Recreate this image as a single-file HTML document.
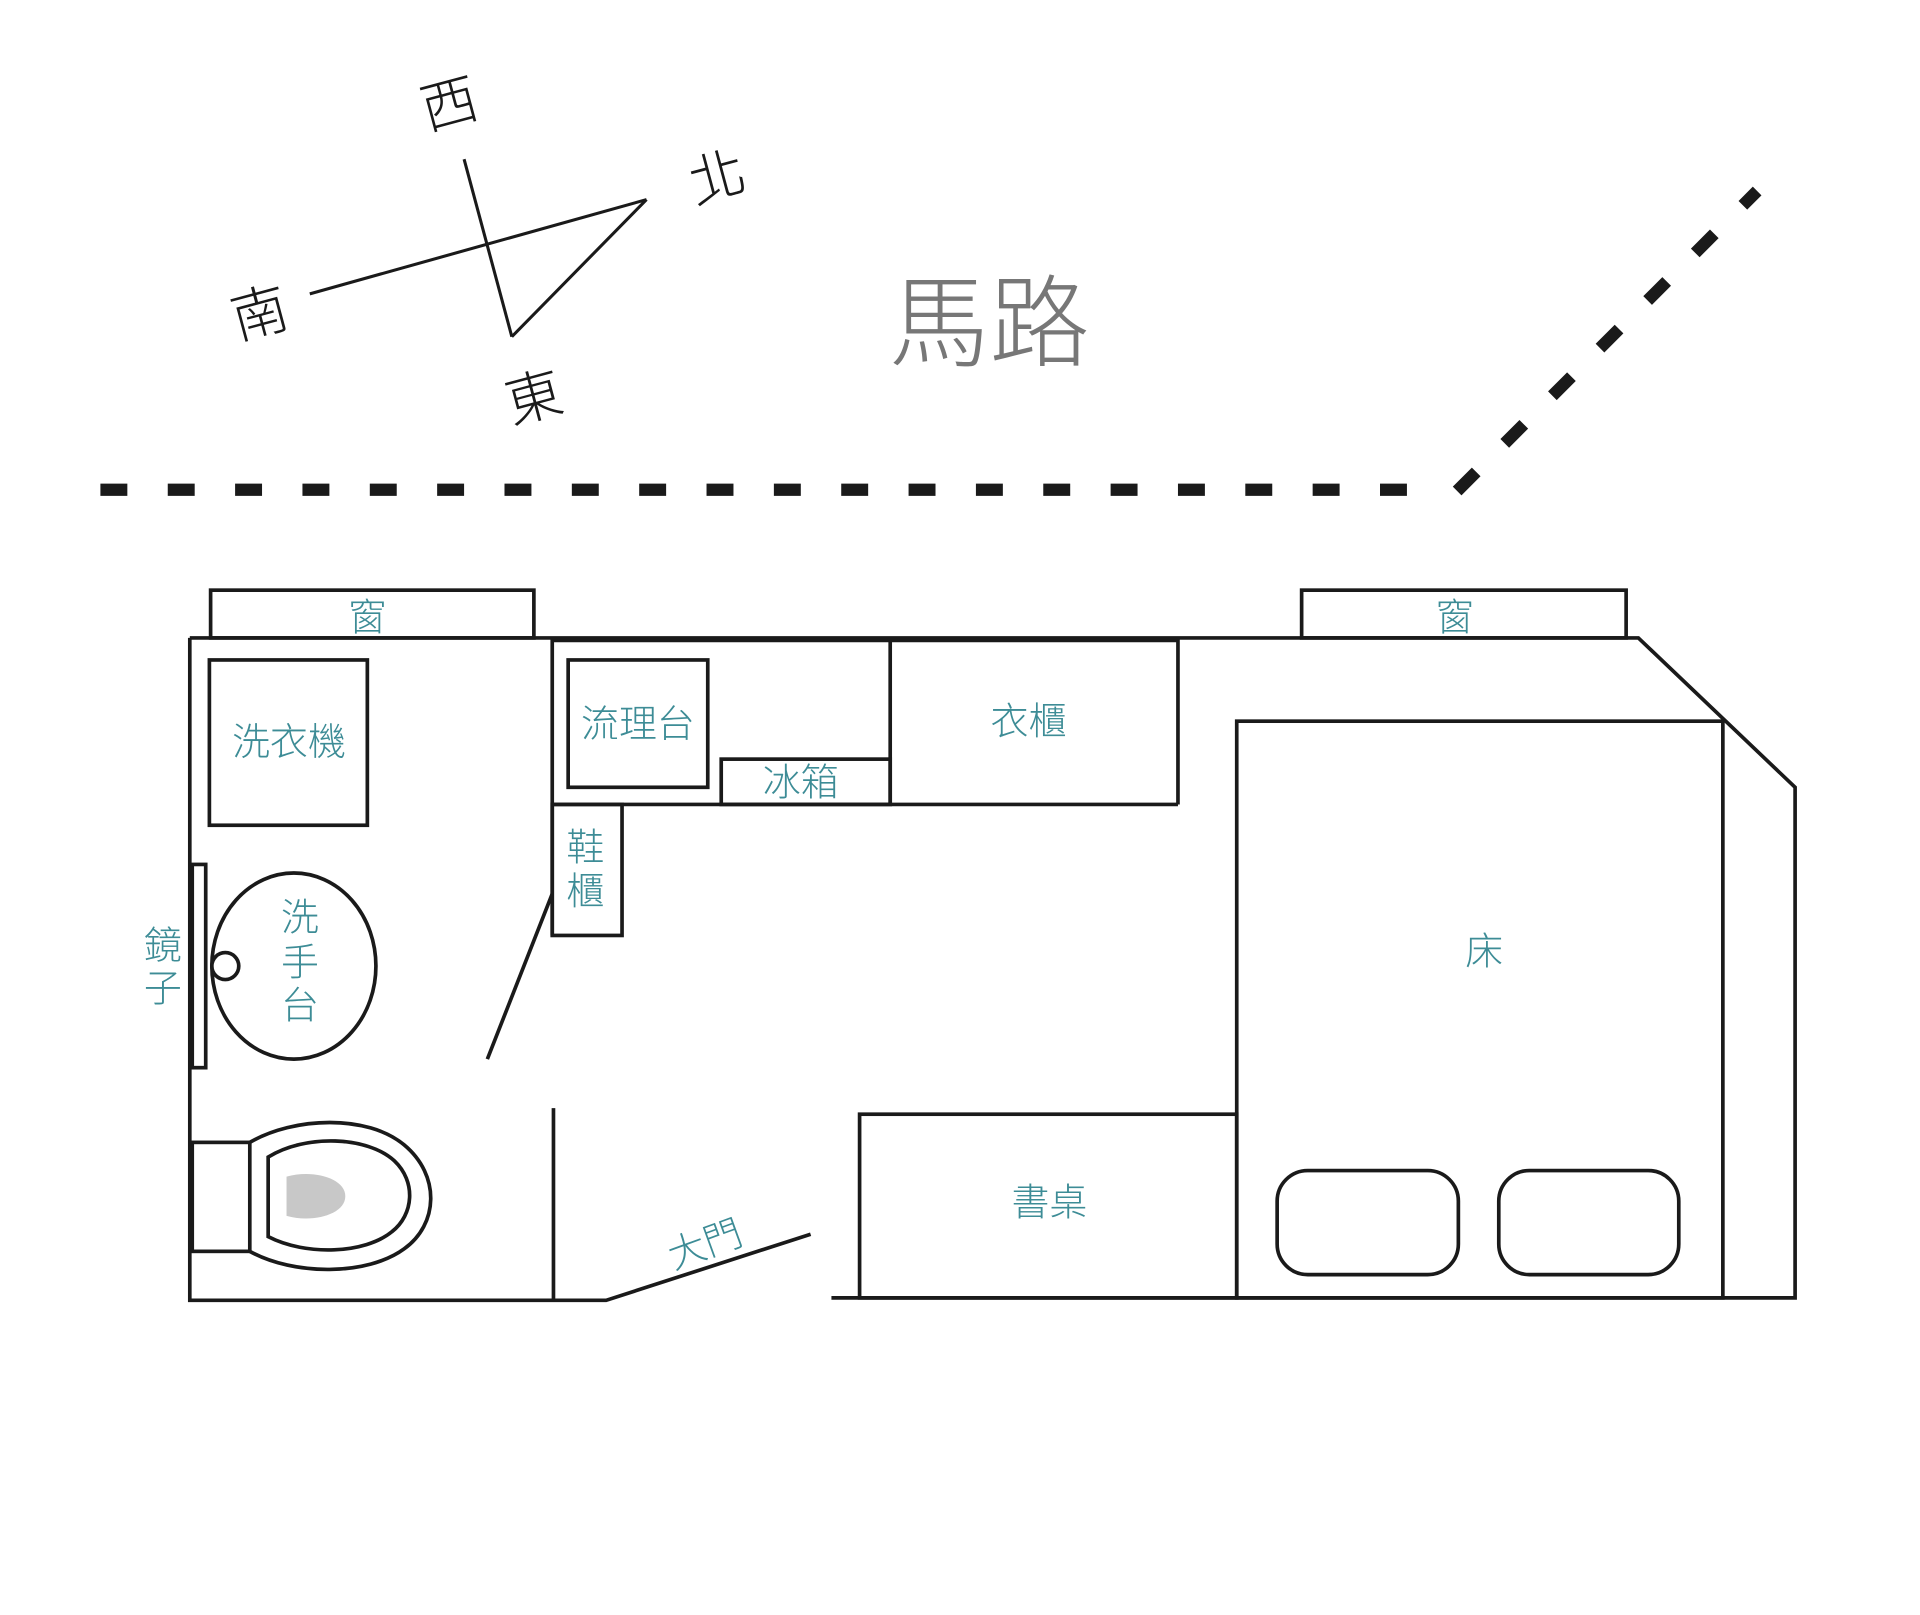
<!DOCTYPE html>
<html><head><meta charset="utf-8"><style>
html,body{margin:0;padding:0;background:#fff;}
svg{display:block;}
text{font-family:"Liberation Sans","Noto Sans CJK TC",sans-serif;}
.t{fill:#3d8c96;font-size:31px;text-anchor:middle;dominant-baseline:central;font-weight:300;}
.k{fill:#1a1a1a;font-size:46px;text-anchor:middle;dominant-baseline:central;font-weight:300;}
</style></head><body>
<svg width="1920" height="1615" viewBox="0 0 1568 1319" preserveAspectRatio="none" xmlns="http://www.w3.org/2000/svg">
<g stroke="#1a1a1a" stroke-width="2.5" fill="none">
<line x1="379" y1="130" x2="418" y2="275"/>
<line x1="253" y1="240" x2="528" y2="163"/>
<line x1="528" y1="163" x2="418" y2="275"/>
</g>
<text class="k" transform="translate(367,85) rotate(-15)">西</text>
<text class="k" transform="translate(586,145) rotate(-15)">北</text>
<text class="k" transform="translate(212,256) rotate(-15)">南</text>
<text class="k" transform="translate(436,325) rotate(-15)">東</text>
<text x="808" y="265" style="fill:#777;font-size:82px;text-anchor:middle;dominant-baseline:central;font-weight:300;">馬路</text>
<g stroke="#1a1a1a" stroke-width="10" fill="none">
<line x1="82" y1="400" x2="1162" y2="400" stroke-dasharray="22 33"/>
<line x1="1190" y1="401" x2="1435" y2="156" stroke-dasharray="22 33"/>
</g>
<g stroke="#1a1a1a" stroke-width="3" fill="none">
<rect x="172" y="482" width="264" height="39"/>
<rect x="1063" y="482" width="265" height="39"/>
<polyline points="155,521 1338,521 1466,643 1466,1060 679,1060"/>
<polyline points="155,521 155,1062 495,1062 662,1008"/>
<line x1="451" y1="521" x2="451" y2="764"/>
<line x1="451" y1="730" x2="398" y2="865"/>
<line x1="452" y1="905" x2="452" y2="1062"/>
<line x1="451" y1="523" x2="962" y2="523"/>
<line x1="451" y1="657" x2="962" y2="657"/>
<line x1="727" y1="521" x2="727" y2="657"/>
<line x1="962" y1="521" x2="962" y2="657"/>
<rect x="451" y="657" width="57" height="107"/>
<rect x="464" y="539" width="114" height="104"/>
<rect x="589" y="620" width="138" height="37"/>
<rect x="171" y="539" width="129" height="135"/>
<rect x="157" y="706" width="11" height="166"/>
<ellipse cx="240" cy="789" rx="67" ry="76"/>
<circle cx="184" cy="789" r="11" fill="#fff"/>
<rect x="157" y="933" width="47" height="89"/>
<path d="M204,933 C240,912 300,910 330,935 C360,960 358,1000 330,1020 C300,1042 240,1042 204,1022"/>
<path d="M219,945 C250,926 300,928 322,948 C340,965 338,992 320,1006 C298,1024 250,1026 219,1010 Z"/>
<rect x="1010" y="589" width="397" height="471"/>
<rect x="1043" y="956" width="148" height="85" rx="25"/>
<rect x="1224" y="956" width="147" height="85" rx="25"/>
<rect x="702" y="910" width="308" height="150"/>
</g>
<path d="M234,961 C255,955 282,962 282,977 C282,992 255,999 234,993 Z" fill="#c8c8c8"/>
<text class="t" x="300" y="505">窗</text>
<text class="t" x="1188" y="505">窗</text>
<text class="t" x="236" y="607">洗衣機</text>
<text class="t" x="521" y="592">流理台</text>
<text class="t" x="654" y="640">冰箱</text>
<text class="t" x="840" y="590">衣櫃</text>
<text class="t" x="478" y="693">鞋</text>
<text class="t" x="478" y="729">櫃</text>
<text class="t" x="133" y="773">鏡</text>
<text class="t" x="133" y="808">子</text>
<text class="t" x="245" y="750">洗</text>
<text class="t" x="245" y="787">手</text>
<text class="t" x="245" y="822">台</text>
<text class="t" x="1212" y="778">床</text>
<text class="t" x="857" y="983">書桌</text>
<text class="t" transform="translate(576,1017) rotate(-20)">大門</text>
</svg>
</body></html>
